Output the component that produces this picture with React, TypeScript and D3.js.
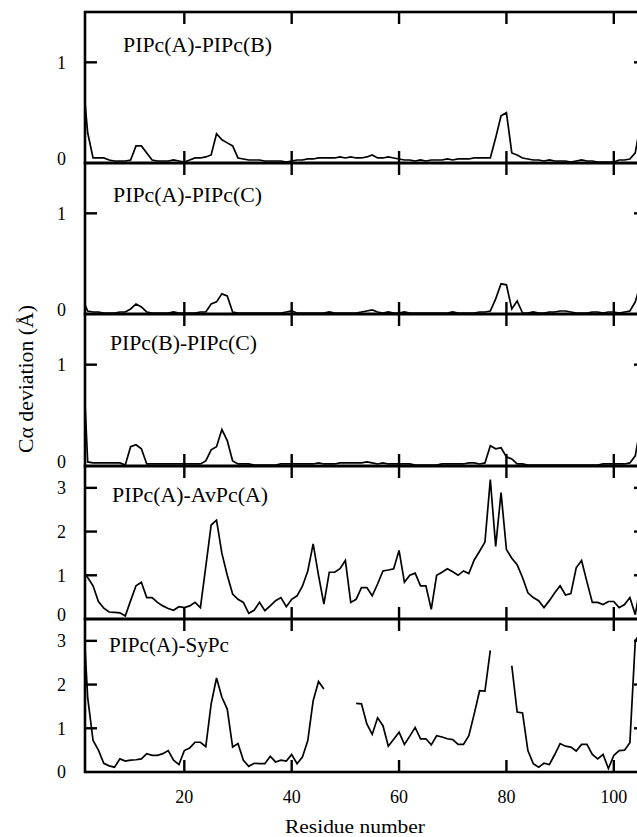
import React from "react";
import * as d3 from "d3";

// Residue numbers 1..105
const residues: number[] = d3.range(1, 106);

const panelLabels: string[] = [
  "PIPc(A)-PIPc(B)",
  "PIPc(A)-PIPc(C)",
  "PIPc(B)-PIPc(C)",
  "PIPc(A)-AvPc(A)",
  "PIPc(A)-SyPc",
];

const AB: number[] = [
  0.9, 0.3, 0.05, 0.05, 0.05, 0.03, 0.02, 0.02, 0.02, 0.03,
  0.17, 0.17, 0.1, 0.03, 0.02, 0.02, 0.02, 0.03, 0.02, 0.01,
  0.03, 0.05, 0.05, 0.06, 0.08, 0.29, 0.23, 0.2, 0.17, 0.05,
  0.04, 0.03, 0.03, 0.03, 0.02, 0.02, 0.02, 0.02, 0.01, 0.02,
  0.03, 0.03, 0.04, 0.04, 0.05, 0.05, 0.05, 0.05, 0.06, 0.05,
  0.06, 0.05, 0.05, 0.06, 0.08, 0.05, 0.05, 0.06, 0.05, 0.04,
  0.03, 0.03, 0.02, 0.03, 0.02, 0.03, 0.03, 0.03, 0.04, 0.03,
  0.04, 0.04, 0.04, 0.05, 0.05, 0.05, 0.05, 0.25, 0.47, 0.5,
  0.1, 0.08, 0.05, 0.04, 0.03, 0.03, 0.02, 0.03, 0.02, 0.02,
  0.02, 0.01, 0.02, 0.03, 0.02, 0.02, 0.01, 0.01, 0.01, 0.01,
  0.03, 0.03, 0.04, 0.1, 0.4,
];

const AC: number[] = [
  0.15, 0.03, 0.02, 0.02, 0.01, 0.01, 0.01, 0.02, 0.02, 0.05,
  0.1, 0.07, 0.02, 0.01, 0.01, 0.01, 0.01, 0.02, 0.01, 0.01,
  0.01, 0.01, 0.02, 0.02, 0.1, 0.12, 0.2, 0.18, 0.02, 0.01,
  0.01, 0.01, 0.01, 0.01, 0.01, 0.01, 0.01, 0.01, 0.02, 0.03,
  0.01, 0.01, 0.01, 0.01, 0.01, 0.01, 0.02, 0.01, 0.01, 0.01,
  0.01, 0.01, 0.02, 0.03, 0.04, 0.02, 0.01, 0.02, 0.01, 0.01,
  0.02, 0.01, 0.01, 0.01, 0.01, 0.01, 0.01, 0.01, 0.01, 0.02,
  0.01, 0.01, 0.01, 0.01, 0.02, 0.02, 0.03, 0.15, 0.3, 0.29,
  0.05, 0.13, 0.01, 0.01, 0.02, 0.01, 0.01, 0.02, 0.02, 0.03,
  0.03, 0.02, 0.01, 0.01, 0.01, 0.02, 0.02, 0.01, 0.02, 0.02,
  0.01, 0.02, 0.03, 0.12, 0.3,
];

const BC: number[] = [
  1.2, 0.04, 0.03, 0.03, 0.03, 0.03, 0.03, 0.03, 0.01, 0.19,
  0.21, 0.17, 0.02, 0.02, 0.02, 0.02, 0.02, 0.02, 0.02, 0.02,
  0.02, 0.02, 0.02, 0.05, 0.16, 0.19, 0.36, 0.25, 0.05, 0.02,
  0.02, 0.02, 0.01, 0.01, 0.01, 0.01, 0.01, 0.02, 0.02, 0.02,
  0.02, 0.02, 0.02, 0.02, 0.03, 0.02, 0.02, 0.02, 0.03, 0.03,
  0.03, 0.03, 0.03, 0.04, 0.03, 0.02, 0.03, 0.02, 0.02, 0.02,
  0.02, 0.02, 0.01, 0.01, 0.01, 0.01, 0.01, 0.02, 0.02, 0.02,
  0.02, 0.02, 0.03, 0.03, 0.02, 0.03, 0.2, 0.17, 0.18, 0.09,
  0.07, 0.02, 0.02, 0.01, 0.01, 0.01, 0.01, 0.01, 0.01, 0.01,
  0.01, 0.01, 0.01, 0.01, 0.01, 0.01, 0.01, 0.02, 0.02, 0.02,
  0.02, 0.02, 0.03, 0.1, 0.4,
];

const AvPc: number[] = [
  1.1, 0.95, 0.76, 0.4, 0.25, 0.16, 0.15, 0.14, 0.07, 0.42,
  0.76, 0.84, 0.49, 0.49, 0.38, 0.3, 0.24, 0.2, 0.28, 0.26,
  0.3, 0.38, 0.26, 1.2, 2.15, 2.26, 1.5, 1.0, 0.57, 0.45,
  0.38, 0.13, 0.2, 0.38, 0.19, 0.3, 0.42, 0.49, 0.28, 0.45,
  0.53, 0.75, 1.1, 1.72, 1.0, 0.34, 1.07, 1.07, 1.15, 1.34,
  0.38, 0.45, 0.72, 0.72, 0.53, 0.8, 1.1, 1.12, 1.15, 1.57,
  0.84, 1.0, 1.05, 0.76, 0.76, 0.22, 1.0, 1.07, 1.15, 1.08,
  1.0, 1.1, 1.04, 1.35, 1.55, 1.76, 3.19, 1.66, 2.89, 1.59,
  1.39, 1.24, 0.95, 0.6, 0.49, 0.42, 0.26, 0.42, 0.6, 0.76,
  0.55, 0.58, 1.17, 1.34, 0.85, 0.38, 0.38, 0.33, 0.4, 0.4,
  0.26, 0.33, 0.49, 0.1, 0.8,
];

const SyPc: (number | null)[] = [
  4.0, 1.7, 0.72, 0.5, 0.2, 0.14, 0.11, 0.3, 0.25, 0.27,
  0.28, 0.3, 0.42, 0.38, 0.38, 0.42, 0.49, 0.27, 0.17, 0.49,
  0.55, 0.68, 0.68, 0.58, 1.56, 2.15, 1.71, 1.44, 0.57, 0.65,
  0.27, 0.13, 0.2, 0.19, 0.19, 0.36, 0.23, 0.27, 0.25, 0.4,
  0.19, 0.34, 0.72, 1.63, 2.07, 1.9, null, null, null, null,
  null, 1.57, 1.56, 1.1, 0.86, 1.24, 1.06, 0.59, 0.75, 0.91,
  0.63, 0.82, 1.02, 0.76, 0.76, 0.62, 0.83, 0.8, 0.76, 0.74,
  0.63, 0.63, 0.83, 1.33, 1.86, 1.85, 2.78, null, null, null,
  2.43, 1.37, 1.35, 0.49, 0.19, 0.11, 0.2, 0.17, 0.4, 0.65,
  0.59, 0.57, 0.48, 0.63, 0.63, 0.4, 0.3, 0.4, 0.08, 0.38,
  0.49, 0.5, 0.67, 3.0, 3.2,
];

const seriesList: (number | null)[][] = [AB, AC, BC, AvPc, SyPc];
const yMaxes: number[] = [1.5, 1.5, 1.5, 3.5, 3.5];
const yTickSets: number[][] = [[0, 1], [0, 1], [0, 1], [0, 1, 2, 3], [0, 1, 2, 3]];
const xTicks: number[] = [20, 40, 60, 80, 100];

const W = 637;
const H = 837;
const LEFT = 85;
const RIGHT = 646;
const EDGES = [12, 163, 314, 466, 619, 772];
const TICK = 12;
const FONT = '"Liberation Serif", "Times New Roman", Times, "DejaVu Serif", serif';
const tStyle = { fontFamily: FONT };

const labelGeom = [
  { x: 123, y: 52, w: 149 },
  { x: 113, y: 202, w: 149 },
  { x: 110, y: 350, w: 147 },
  { x: 112, y: 502, w: 156 },
  { x: 109, y: 652, w: 120 },
];

export default function App() {
  const x = d3.scaleLinear().domain([1.5, 106]).range([LEFT, RIGHT]);

  return (
    <svg
      width={W}
      height={H}
      style={{ position: "absolute", left: 0, top: 0, background: "#fff", fontFamily: FONT }}
    >
      <defs>
        {seriesList.map((_, i) => (
          <clipPath id={`clip${i}`} key={i}>
            <rect x={LEFT} y={EDGES[i]} width={RIGHT - LEFT} height={EDGES[i + 1] - EDGES[i]} />
          </clipPath>
        ))}
      </defs>
      {seriesList.map((vals, i) => {
        const top = EDGES[i];
        const bottom = EDGES[i + 1];
        const y = d3.scaleLinear().domain([0, yMaxes[i]]).range([bottom, top]);
        const line = d3
          .line<number>()
          .defined((r) => vals[r - 1] != null)
          .x((r) => x(r))
          .y((r) => y(vals[r - 1] as number));
        const isLast = i === seriesList.length - 1;
        return (
          <g key={i}>
            <path
              d={line(residues) || ""}
              fill="none"
              stroke="#000"
              strokeWidth={1.7}
              strokeLinejoin="miter"
              clipPath={`url(#clip${i})`}
            />
            <rect
              x={LEFT}
              y={top}
              width={RIGHT - LEFT}
              height={bottom - top}
              fill="none"
              stroke="#000"
              strokeWidth={2.6}
            />
            {xTicks.map((t) => (
              <g key={t}>
                <line x1={x(t)} x2={x(t)} y1={top} y2={top + TICK} stroke="#000" strokeWidth={2.4} />
                <line x1={x(t)} x2={x(t)} y1={bottom} y2={bottom - TICK} stroke="#000" strokeWidth={2.4} />
              </g>
            ))}
            {yTickSets[i].map((t) => (
              <g key={t}>
                {t > 0 && (
                  <>
                    <line x1={LEFT} x2={LEFT + TICK} y1={y(t)} y2={y(t)} stroke="#000" strokeWidth={2.4} />
                    <line x1={RIGHT} x2={RIGHT - TICK} y1={y(t)} y2={y(t)} stroke="#000" strokeWidth={2.4} />
                  </>
                )}
                <text
                  x={66}
                  y={y(t) + (t === 0 && !isLast ? -4 : 0)}
                  dy="0.35em"
                  textAnchor="end"
                  fontSize={18}
                  fill="#000"
                  style={tStyle}
                >
                  {t}
                </text>
              </g>
            ))}
            <text
              x={labelGeom[i].x}
              y={labelGeom[i].y}
              fontSize={20}
              textLength={labelGeom[i].w}
              lengthAdjust="spacingAndGlyphs"
              fill="#000"
              style={tStyle}
            >
              {panelLabels[i]}
            </text>
          </g>
        );
      })}
      {xTicks.map((t) => (
        <text key={t} x={x(t)} y={803} textAnchor="middle" fontSize={18} fill="#000" style={tStyle}>
          {t}
        </text>
      ))}
      <text
        x={355}
        y={833}
        textAnchor="middle"
        fontSize={18}
        textLength={140}
        lengthAdjust="spacingAndGlyphs"
        fill="#000"
        style={tStyle}
      >
        Residue number
      </text>
      <text
        transform="translate(33,379) rotate(-90)"
        textAnchor="middle"
        fontSize={20}
        textLength={148}
        lengthAdjust="spacingAndGlyphs"
        fill="#000"
        style={tStyle}
      >
        Cα deviation (Å)
      </text>
    </svg>
  );
}
